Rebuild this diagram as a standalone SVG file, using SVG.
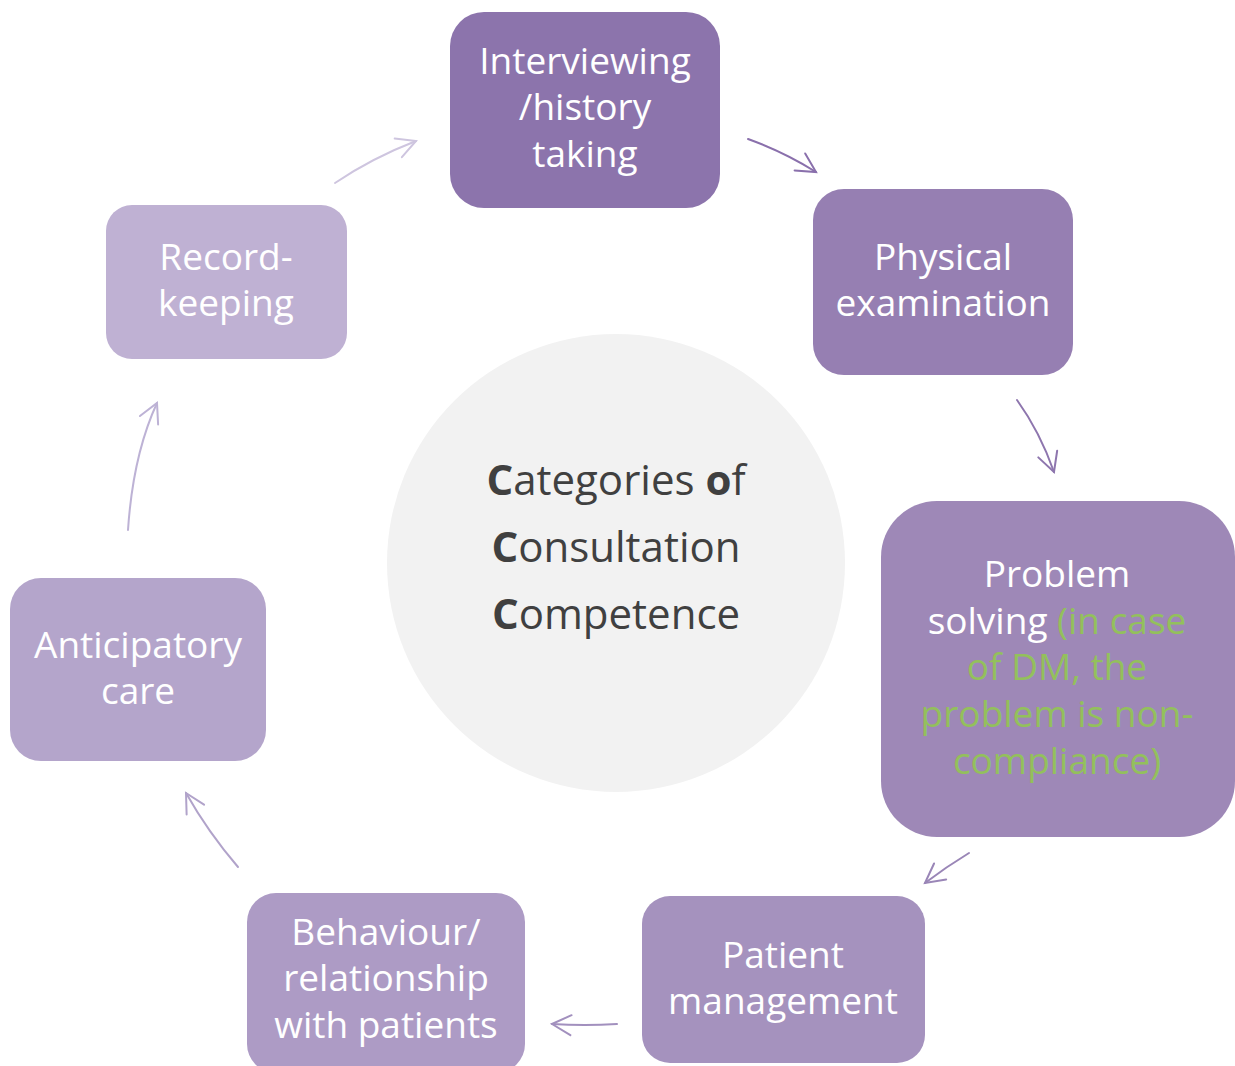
<svg xmlns="http://www.w3.org/2000/svg" width="1235" height="1066" viewBox="0 0 1235 1066">
  <style>
    .lbl { font-family: "Open Sans", "Noto Sans", "Liberation Sans", sans-serif; font-size: 37px; fill: #FFFFFF; text-anchor: middle; }
    .note { fill: #93C05C; }
    .hub { font-family: "Open Sans", "Noto Sans", "Liberation Sans", sans-serif; font-size: 42px; fill: #404040; text-anchor: middle; }
    .hub .b { font-weight: bold; }
    .link { fill: none; stroke-width: 2; stroke-linecap: round; }
  </style>
  <defs>
    <marker id="h1" markerUnits="userSpaceOnUse" markerWidth="40" markerHeight="40" viewBox="-20 -20 40 40" refX="0" refY="0" orient="auto" overflow="visible"><path d="M-19,-10 L0,0 L-19,10" fill="none" stroke="#CEC5DF" stroke-width="2" stroke-linecap="round"/></marker>
    <marker id="h2" markerUnits="userSpaceOnUse" markerWidth="40" markerHeight="40" viewBox="-20 -20 40 40" refX="0" refY="0" orient="auto" overflow="visible"><path d="M-19,-10 L0,0 L-19,10" fill="none" stroke="#8A70AC" stroke-width="2" stroke-linecap="round"/></marker>
    <marker id="h3" markerUnits="userSpaceOnUse" markerWidth="40" markerHeight="40" viewBox="-20 -20 40 40" refX="0" refY="0" orient="auto" overflow="visible"><path d="M-19,-10 L0,0 L-19,10" fill="none" stroke="#8E76AE" stroke-width="2" stroke-linecap="round"/></marker>
    <marker id="h4" markerUnits="userSpaceOnUse" markerWidth="40" markerHeight="40" viewBox="-20 -20 40 40" refX="0" refY="0" orient="auto" overflow="visible"><path d="M-19,-10 L0,0 L-19,10" fill="none" stroke="#9A86B7" stroke-width="2" stroke-linecap="round"/></marker>
    <marker id="h5" markerUnits="userSpaceOnUse" markerWidth="40" markerHeight="40" viewBox="-20 -20 40 40" refX="0" refY="0" orient="auto" overflow="visible"><path d="M-19,-10 L0,0 L-19,10" fill="none" stroke="#A290BE" stroke-width="2" stroke-linecap="round"/></marker>
    <marker id="h6" markerUnits="userSpaceOnUse" markerWidth="40" markerHeight="40" viewBox="-20 -20 40 40" refX="0" refY="0" orient="auto" overflow="visible"><path d="M-19,-10 L0,0 L-19,10" fill="none" stroke="#B1A3CA" stroke-width="2" stroke-linecap="round"/></marker>
    <marker id="h7" markerUnits="userSpaceOnUse" markerWidth="40" markerHeight="40" viewBox="-20 -20 40 40" refX="0" refY="0" orient="auto" overflow="visible"><path d="M-19,-10 L0,0 L-19,10" fill="none" stroke="#BDB2D5" stroke-width="2" stroke-linecap="round"/></marker>
  </defs>

  <rect width="1235" height="1066" fill="#FFFFFF"/>

  <!-- central hub -->
  <g id="hub">
    <circle cx="616" cy="563" r="229" fill="#F2F2F2"/>
    <text class="hub" x="616" y="495"><tspan class="b">C</tspan>ategories <tspan class="b">o</tspan>f</text>
    <text class="hub" x="616" y="562"><tspan class="b">C</tspan>onsultation</text>
    <text class="hub" x="616" y="629"><tspan class="b">C</tspan>ompetence</text>
  </g>

  <!-- cycle connectors -->
  <g id="connectors">
    <path class="link" d="M335,183 Q372,158 416,141" stroke="#CEC5DF" marker-end="url(#h1)"/>
    <path class="link" d="M748,139 Q784,152 816,172" stroke="#8A70AC" marker-end="url(#h2)"/>
    <path class="link" d="M1017,400 Q1040,432 1054,472" stroke="#8E76AE" marker-end="url(#h3)"/>
    <path class="link" d="M969,853 Q946,867 925,883" stroke="#9A86B7" marker-end="url(#h4)"/>
    <path class="link" d="M617,1024 Q585,1026 552,1024" stroke="#A290BE" marker-end="url(#h5)"/>
    <path class="link" d="M238,867 Q208,832 186,793" stroke="#B1A3CA" marker-end="url(#h6)"/>
    <path class="link" d="M128,530 Q133,455 157,403" stroke="#BDB2D5" marker-end="url(#h7)"/>
  </g>

  <g id="interviewing">
    <rect x="450" y="12" width="270" height="196" rx="34" fill="#8C74AC"/>
    <text class="lbl" x="585" y="74">Interviewing</text>
    <text class="lbl" x="585" y="120">/history</text>
    <text class="lbl" x="585" y="167">taking</text>
  </g>

  <g id="physical-examination">
    <rect x="813" y="189" width="260" height="186" rx="31" fill="#967FB2"/>
    <text class="lbl" x="943" y="270">Physical</text>
    <text class="lbl" x="943" y="316">examination</text>
  </g>

  <g id="problem-solving">
    <rect x="881" y="501" width="354" height="336" rx="56" fill="#9E88B7"/>
    <text class="lbl" x="1057" y="587">Problem</text>
    <text class="lbl" x="1057" y="634">solving <tspan class="note">(in case</tspan></text>
    <text class="lbl note" x="1057" y="680">of DM, the</text>
    <text class="lbl note" x="1057" y="727">problem is non-</text>
    <text class="lbl note" x="1057" y="774">compliance)</text>
  </g>

  <g id="patient-management">
    <rect x="642" y="896" width="283" height="167" rx="28" fill="#A592BE"/>
    <text class="lbl" x="783" y="968">Patient</text>
    <text class="lbl" x="783" y="1014">management</text>
  </g>

  <g id="behaviour">
    <rect x="247" y="893" width="278" height="180" rx="29" fill="#AD9BC5"/>
    <text class="lbl" x="386" y="945">Behaviour/</text>
    <text class="lbl" x="386" y="991">relationship</text>
    <text class="lbl" x="386" y="1038">with patients</text>
  </g>

  <g id="anticipatory-care">
    <rect x="10" y="578" width="256" height="183" rx="31" fill="#B4A5CB"/>
    <text class="lbl" x="138" y="658">Anticipatory</text>
    <text class="lbl" x="138" y="704">care</text>
  </g>

  <g id="record-keeping">
    <rect x="106" y="205" width="241" height="154" rx="26" fill="#BFB1D3"/>
    <text class="lbl" x="226" y="270">Record-</text>
    <text class="lbl" x="226" y="316">keeping</text>
  </g>
</svg>
